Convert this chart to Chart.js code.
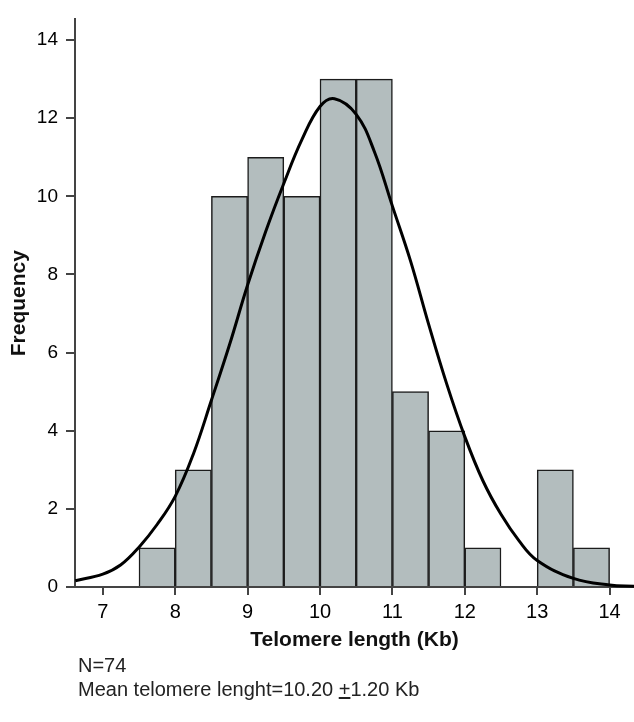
<!DOCTYPE html>
<html>
<head>
<meta charset="utf-8">
<script src="https://cdn.jsdelivr.net/npm/chart.js@4/dist/chart.umd.min.js"></script>
<style>
  html, body { margin: 0; padding: 0; background: #fff; }
  #wrap { position: relative; width: 634px; height: 722px; }
  #c { position: absolute; left: 0; top: 0; }
  .note { position: absolute; left: 78px; font-family: "Liberation Sans", Arial, sans-serif; font-size: 20px; line-height: 24px; color: #222; white-space: nowrap; }
</style>
</head>
<body>
<div id="wrap">
  <canvas id="c" width="634" height="722"></canvas>
  <div class="note" id="n1" style="top:653px;">N=74</div>
  <div class="note" id="n2" style="top:677px;">Mean telomere lenght=10.20 <span style="text-decoration:underline;">+</span>1.20 Kb</div>
</div>
<script>
// Histogram bins (centres of 0.5 Kb bins) and frequencies
const binCenters = [7.75, 8.25, 8.75, 9.25, 9.75, 10.25, 10.75, 11.25, 11.75, 12.25, 12.75, 13.25, 13.75];
const frequencies = [1, 3, 10, 11, 10, 13, 13, 5, 4, 1, 0, 3, 1];

// Fitted normal curve
const curveX = [6.62, 7.0, 7.25, 7.5, 7.75, 8.0, 8.25, 8.5, 8.75, 9.0, 9.25, 9.5, 9.75, 10.0, 10.2, 10.5, 10.75, 11.0, 11.25, 11.5, 11.75, 12.0, 12.25, 12.5, 12.75, 13.0, 13.5, 14.0, 14.34];
const curveY = [0.16, 0.33, 0.57, 1.02, 1.6, 2.32, 3.4, 4.78, 6.2, 7.73, 9.1, 10.33, 11.45, 12.3, 12.5, 12.1, 11.15, 9.75, 8.35, 6.73, 5.2, 3.85, 2.72, 1.86, 1.18, 0.68, 0.22, 0.05, 0.02];

// Tick labels
const xTicks = [7, 8, 9, 10, 11, 12, 13, 14];
const yTicks = [0, 2, 4, 6, 8, 10, 12, 14];

const FONT = '"Liberation Sans", Arial, sans-serif';

const barData = binCenters.map((x, i) => ({ x: x, y: frequencies[i] }));
const curveData = curveX.map((x, i) => ({ x: x, y: curveY[i] }));

new Chart(document.getElementById('c'), {
  type: 'bar',
  data: {
    datasets: [
      {
        type: 'line',
        data: curveData,
        borderColor: '#000',
        borderWidth: 3,
        pointRadius: 0,
        tension: 0.4,
        fill: false,
        order: 0,
        clip: false
      },
      {
        type: 'bar',
        data: barData,
        backgroundColor: '#b3bdbe',
        borderColor: '#1c1c1c',
        borderWidth: 1.5,
        barPercentage: 1,
        categoryPercentage: 1,
        order: 1
      }
    ]
  },
  options: {
    responsive: false,
    animation: false,
    events: [],
    layout: { padding: { left: 0, right: 0, top: 10, bottom: 69 } },
    plugins: { legend: { display: false }, tooltip: { enabled: false } },
    scales: {
      x: {
        type: 'linear',
        offset: false,
        min: 6.616,
        max: 14.337,
        afterBuildTicks: s => { s.ticks = xTicks.map(v => ({ value: v })); },
        afterFit: s => { s.height = 66; },
        grid: { offset: false, drawOnChartArea: false, drawTicks: true, tickLength: 8, color: '#444', lineWidth: 2 },
        border: { display: true, color: '#444', width: 2 },
        ticks: { font: { family: FONT, size: 20 }, color: '#000', padding: 5, maxRotation: 0 },
        title: { display: true, text: 'Telomere length (Kb)', font: { family: FONT, size: 21, weight: 'bold' }, color: '#111', padding: { top: 0, bottom: 0 } }
      },
      y: {
        type: 'linear',
        min: 0,
        max: 14.53,
        afterBuildTicks: s => { s.ticks = yTicks.map(v => ({ value: v })); },
        afterFit: s => { s.width = 75; },
        grid: { drawOnChartArea: false, drawTicks: true, tickLength: 9, color: '#444', lineWidth: 2 },
        border: { display: true, color: '#444', width: 2 },
        ticks: { font: { family: FONT, size: 19 }, color: '#000', padding: 8 },
        title: { display: true, text: 'Frequency', font: { family: FONT, size: 21, weight: 'bold' }, color: '#111', padding: { top: 7, bottom: 0 } }
      }
    }
  }
});
</script>
</body>
</html>
